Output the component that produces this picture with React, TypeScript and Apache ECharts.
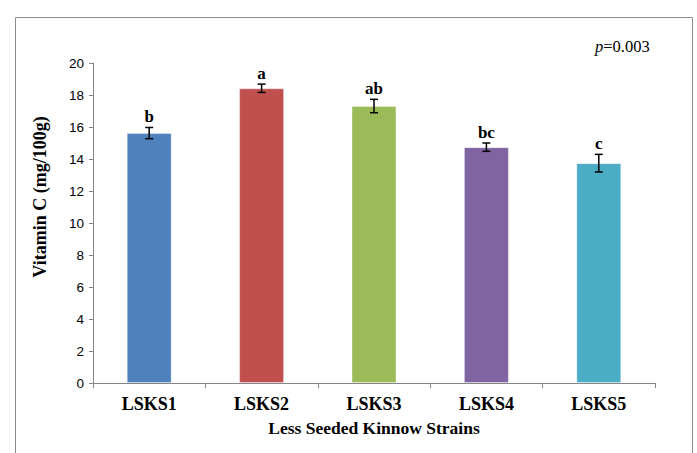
import React, { useEffect, useRef } from "react";
import * as echarts from "echarts";

const categories = ["LSKS1", "LSKS2", "LSKS3", "LSKS4", "LSKS5"];
const values = [15.62, 18.42, 17.31, 14.74, 13.74];
const errors = [0.35, 0.26, 0.42, 0.26, 0.55];
const letters = ["b", "a", "ab", "bc", "c"];
const colors = ["#4F81BD", "#C0504D", "#9BBB59", "#8064A2", "#4BACC6"];
const yTicks = [0, 2, 4, 6, 8, 10, 12, 14, 16, 18, 20];

const serif = "'Liberation Serif', 'Times New Roman', serif";

export default function App() {
  const ref = useRef<HTMLDivElement>(null);
  useEffect(() => {
    document.body.style.margin = "0";
    const chart = echarts.init(ref.current!, null, { renderer: "svg" });
    const option: any = {
      animation: false,
      backgroundColor: "#ffffff",
      grid: { left: 93, right: 42, top: 63, bottom: 70 },
      graphic: [
        {
          type: "rect",
          shape: { x: 15.5, y: 17.5, width: 677, height: 460 },
          style: { fill: "none", stroke: "#8c8c8c", lineWidth: 1 },
          silent: true,
        },
        {
          type: "text",
          x: 595,
          y: 38,
          style: {
            text: "{i|p}=0.003",
            rich: {
              i: { fontStyle: "italic", fontFamily: serif, fontSize: 16.5, fill: "#000" },
            },
            fontFamily: serif,
            fontSize: 16.5,
            fill: "#000",
          },
        },
        {
          type: "text",
          x: 40,
          y: 197,
          rotation: Math.PI / 2,
          style: {
            text: "Vitamin C (mg/100g)",
            textAlign: "center",
            textVerticalAlign: "middle",
            fontFamily: serif,
            fontWeight: "bold",
            fontSize: 18,
            fill: "#000",
          },
        },
      ],
      xAxis: {
        type: "category",
        data: categories,
        name: "Less Seeded Kinnow Strains",
        nameLocation: "middle",
        nameGap: 36,
        nameTextStyle: { fontFamily: serif, fontWeight: "bold", fontSize: 17.5, color: "#000" },
        axisLine: { lineStyle: { color: "#868686", width: 1 } },
        axisTick: { show: true, length: 5, alignWithLabel: false, lineStyle: { color: "#868686" } },
        axisLabel: { fontFamily: serif, fontWeight: "bold", fontSize: 18, color: "#000", margin: 12 },
      },
      yAxis: {
        type: "value",
        min: 0,
        max: 20,
        interval: 2,
        axisLine: { show: true, lineStyle: { color: "#868686", width: 1 } },
        axisTick: { show: true, length: 4, lineStyle: { color: "#868686" } },
        splitLine: { show: false },
        axisLabel: {
          fontFamily: "'Liberation Sans', Arial, sans-serif",
          fontSize: 13.5,
          color: "#000",
          margin: 9,
          formatter: (v: number) => (yTicks.includes(v) ? String(v) : ""),
        },
      },
      series: [
        {
          type: "bar",
          barWidth: "40%",
          data: values.map((v, i) => ({
            value: v,
            itemStyle: { color: colors[i], borderColor: "rgba(255,255,255,0.35)", borderWidth: 1 },
          })),
        },
        {
          type: "custom",
          data: values.map((v, i) => [i, v, errors[i]]),
          z: 10,
          renderItem: (params: any, api: any) => {
            const i = api.value(0);
            const v = api.value(1);
            const e = api.value(2);
            const top = api.coord([i, v + e]);
            const bot = api.coord([i, v - e]);
            const x = top[0];
            const hw = 4;
            const st = { stroke: "#000", lineWidth: 1.5 };
            return {
              type: "group",
              children: [
                { type: "line", shape: { x1: x, y1: top[1], x2: x, y2: bot[1] }, style: st },
                { type: "line", shape: { x1: x - hw, y1: top[1], x2: x + hw, y2: top[1] }, style: st },
                { type: "line", shape: { x1: x - hw, y1: bot[1], x2: x + hw, y2: bot[1] }, style: st },
                {
                  type: "text",
                  x: x,
                  y: top[1] - 2,
                  style: {
                    text: letters[params.dataIndex],
                    textAlign: "center",
                    textVerticalAlign: "bottom",
                    fontFamily: serif,
                    fontWeight: "bold",
                    fontSize: 17,
                    fill: "#000",
                  },
                },
              ],
            };
          },
        },
      ],
    };
    chart.setOption(option);
    return () => chart.dispose();
  }, []);
  return <div ref={ref} style={{ width: 697, height: 453 }} />;
}
